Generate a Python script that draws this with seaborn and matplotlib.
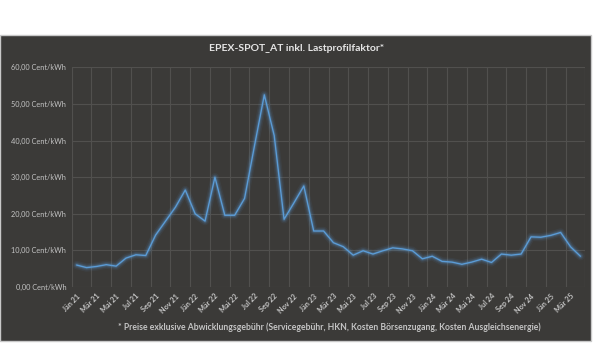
import numpy as np
import pandas as pd
import matplotlib
matplotlib.use("Agg")
import matplotlib.pyplot as plt
import seaborn as sns
from matplotlib.patches import Rectangle

# monthly values Jan 21 .. Apr 25 (Cent/kWh)
months = ["Jän", "Feb", "Mär", "Apr", "Mai", "Jun", "Jul", "Aug", "Sep", "Okt", "Nov", "Dez"]
years = ["21", "22", "23", "24", "25"]
month_labels = [f"{m} {y}" for y in years for m in months][:52]

prices = [6.0, 5.3, 5.6, 6.1, 5.7, 7.9, 8.8, 8.6, 14.2, 18.0, 21.8, 26.5,
          20.0, 18.0, 30.0, 19.6, 19.6, 24.2, 38.5, 52.5, 41.4, 18.5, 23.0, 27.6,
          15.3, 15.3, 12.1, 11.0, 8.7, 9.9, 9.0, 9.9, 10.7, 10.4, 9.9, 7.7,
          8.4, 7.0, 6.8, 6.2, 6.8, 7.6, 6.7, 9.0, 8.7, 9.0, 13.7, 13.6,
          14.1, 14.9, 11.0, 8.4]

title = "EPEX-SPOT_AT inkl. Lastprofilfaktor*"
footnote = "* Preise exklusive Abwicklungsgebühr (Servicegebühr, HKN, Kosten Börsenzugang, Kosten Ausgleichsenergie)"

df = pd.DataFrame({"idx": np.arange(len(prices)), "preis": prices})

sns.set_theme(style="dark")
plt.rcParams["font.family"] = ["Lato", "DejaVu Sans"]

bg = "#3b3a38"
txt = "#c4c4c4"
grid_c = "#51504e"
line_c = "#5b9bd5"

fig = plt.figure(figsize=(6.05, 3.53), dpi=100)
fig.patch.set_facecolor("white")
fig.patches.append(Rectangle((0.0, 0.034), 0.977, 0.867, transform=fig.transFigure,
                             facecolor=bg, edgecolor="#c8c8c8", linewidth=1.0, zorder=-5))

ax = fig.add_axes([0.1185, 0.187, 0.849, 0.622])
ax.set_zorder(2)
ax.set_facecolor(bg)

# glow under the line
for lw, a in [(6, 0.07), (4, 0.13), (2.5, 0.22)]:
    sns.lineplot(data=df, x="idx", y="preis", ax=ax, color=line_c, linewidth=lw, alpha=a)
sns.lineplot(data=df, x="idx", y="preis", ax=ax, color=line_c, linewidth=1.0)

n = len(prices)
ax.set_xlim(-0.5, n - 0.5)
ax.set_ylim(0, 60)
ax.set_yticks(np.arange(0, 61, 10))
ax.set_yticklabels([f"{v:.2f}".replace(".", ",") + " Cent/kWh" for v in range(0, 61, 10)],
                   fontsize=5.3, color=txt)
ax.set_xticks(np.arange(0, n, 2))
ax.set_xticklabels(month_labels[::2], rotation=45, ha="right", rotation_mode="anchor",
                   fontsize=5.2, color=txt, fontweight="bold")
ax.tick_params(axis="both", length=0, pad=4)

ax.grid(False)
for yv in range(0, 61, 10):
    ax.axhline(yv, color=grid_c, linewidth=0.8, zorder=0)
for xv in np.arange(-0.5, n, 2):
    ax.axvline(xv, color=grid_c, linewidth=0.8, zorder=0)
ax.axvline(n - 0.5, color=grid_c, linewidth=0.8, zorder=0)
for s in ax.spines.values():
    s.set_visible(False)
ax.set_xlabel("")
ax.set_ylabel("")

fig.text(0.49, 0.862, title, ha="center", va="center", fontsize=7.5, color="#e6e6e6",
         fontweight="bold")
fig.text(0.545, 0.073, footnote, ha="center", va="center", fontsize=6.2,
         color=txt, fontweight="bold")

fig.savefig("out.png", dpi=100, facecolor="white")
